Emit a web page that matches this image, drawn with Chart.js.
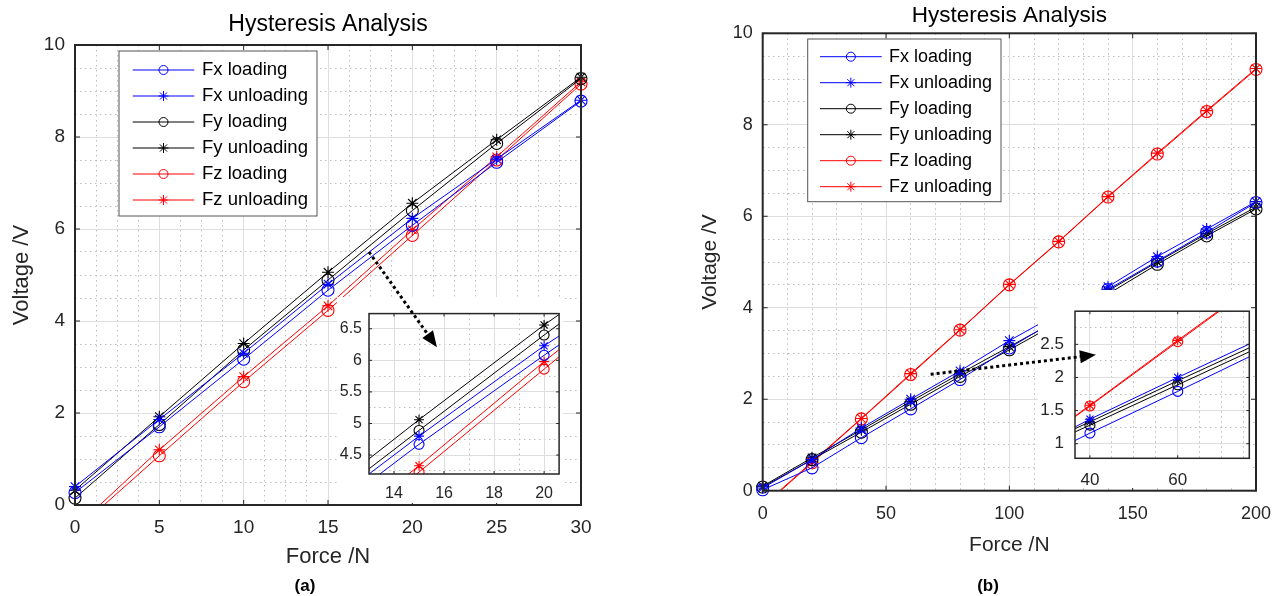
<!DOCTYPE html>
<html lang="en">
<head>
  <meta charset="UTF-8" />
  <title>Hysteresis Analysis</title>
  <script src="https://cdn.jsdelivr.net/npm/chart.js"></script>
  <style>
    body { margin: 0; background: #fff; font-family: "Liberation Sans", Arial, sans-serif; }
    #page { position: relative; width: 1273px; height: 596px; overflow: hidden; }
    canvas { position: absolute; }
    .inset { background: #fff; }
    .cap { position: absolute; width: 60px; text-align: center; font-weight: bold; font-size: 17px; line-height: 20px; color: #000; }
  </style>
</head>
<body>
<div id="page">
  <canvas id="mainA" width="640" height="596" style="left:0;top:0"></canvas>
  <canvas id="mainB" width="623" height="596" style="left:680px;top:0"></canvas>
  <canvas id="insetA" class="inset" width="226" height="206" style="left:337px;top:297px"></canvas>
  <canvas id="insetB" class="inset" width="213" height="198" style="left:1038px;top:290px"></canvas>
  <canvas id="overlay" width="1273" height="596" style="left:0;top:0;pointer-events:none"></canvas>
  <div class="cap" style="left:275px;top:576px">(a)</div>
  <div class="cap" style="left:958px;top:576px">(b)</div>
</div>

<script>
  // ---- data, panel (a) ----
  const forceA = [0, 5, 10, 15, 20, 25, 30];
  const fxLoadA   = [0.27, 1.70, 3.17, 4.67, 6.08, 7.45, 8.78];
  const fxUnloadA = [0.40, 1.86, 3.30, 4.80, 6.23, 7.52, 8.80];
  const fyLoadA   = [0.15, 1.75, 3.37, 4.89, 6.40, 7.86, 9.27];
  const fyUnloadA = [0.32, 1.92, 3.51, 5.06, 6.56, 7.94, 9.30];
  const fzLoadA   = [-0.56, 1.07, 2.68, 4.23, 5.86, 7.50, 9.15];
  const fzUnloadA = [-0.50, 1.20, 2.79, 4.33, 5.98, 7.57, 9.20];

  // ---- data, panel (b) ----
  const forceB = [0, 20, 40, 60, 80, 100, 120, 140, 160, 180, 200];
  const fxLoadB   = [0.02, 0.50, 1.16, 1.79, 2.43, 3.12, 3.77, 4.40, 5.02, 5.65, 6.30];
  const fxUnloadB = [0.06, 0.68, 1.37, 2.00, 2.62, 3.28, 3.88, 4.46, 5.12, 5.72, 6.32];
  const fyLoadB   = [0.08, 0.68, 1.28, 1.89, 2.50, 3.08, 3.68, 4.30, 4.95, 5.57, 6.16];
  const fyUnloadB = [0.10, 0.72, 1.33, 1.95, 2.56, 3.15, 3.74, 4.37, 5.00, 5.62, 6.20];
  const fzLoadB   = [-0.35, 0.61, 1.57, 2.54, 3.51, 4.50, 5.44, 6.42, 7.36, 8.29, 9.21];
  const fzUnloadB = [-0.33, 0.63, 1.58, 2.56, 3.52, 4.51, 5.45, 6.43, 7.38, 8.31, 9.23];

  // ---- tick labels ----
  const xTicksA = [0, 5, 10, 15, 20, 25, 30];
  const yTicksA = [0, 2, 4, 6, 8, 10];
  const xTicksB = [0, 50, 100, 150, 200];
  const yTicksB = [0, 2, 4, 6, 8, 10];
  const xTicksInsetA = [14, 16, 18, 20];
  const yTicksInsetA = [4.5, 5, 5.5, 6, 6.5];
  const xTicksInsetB = [40, 60];
  const yTicksInsetB = [1, 1.5, 2, 2.5];

  const names = ['Fx loading', 'Fx unloading', 'Fy loading', 'Fy unloading', 'Fz loading', 'Fz unloading'];
  const colors = ['#0000ff', '#0000ff', '#000000', '#000000', '#ff0000', '#ff0000'];
  const markers = ['circle', 'star', 'circle', 'star', 'circle', 'star'];

  const FONT = '"Liberation Sans", Arial, sans-serif';
  const INK = '#262626';

  // minor gridline positions between the major ticks
  function minors(min, max, step, major) {
    const out = [];
    for (let v = Math.ceil(min / step) * step; v <= max + 1e-9; v += step) {
      const r = Math.round(v * 1000) / 1000;
      if (!major.some(m => Math.abs(m - r) < 1e-6)) out.push(r);
    }
    return out;
  }

  function drawMarker(ctx, style, x, y, r) {
    ctx.beginPath();
    if (style === 'circle') {
      ctx.arc(x, y, r, 0, Math.PI * 2);
    } else {
      const d = r * Math.SQRT1_2;
      ctx.moveTo(x - r, y); ctx.lineTo(x + r, y);
      ctx.moveTo(x, y - r); ctx.lineTo(x, y + r);
      ctx.moveTo(x - d, y - d); ctx.lineTo(x + d, y + d);
      ctx.moveTo(x - d, y + d); ctx.lineTo(x + d, y - d);
    }
    ctx.stroke();
  }

  // box, inward ticks, title and legend, MATLAB style
  const frame = {
    id: 'frame',
    afterDraw(chart, args, o) {
      const { ctx, chartArea: a, scales } = chart;
      ctx.save();
      ctx.strokeStyle = INK;
      ctx.lineWidth = 1;
      ctx.beginPath();
      scales.x.ticks.forEach(t => {
        const px = scales.x.getPixelForValue(t.value);
        ctx.moveTo(px, a.bottom); ctx.lineTo(px, a.bottom - o.tick);
        ctx.moveTo(px, a.top); ctx.lineTo(px, a.top + o.tick);
      });
      scales.y.ticks.forEach(t => {
        const py = scales.y.getPixelForValue(t.value);
        ctx.moveTo(a.left, py); ctx.lineTo(a.left + o.tick, py);
        ctx.moveTo(a.right, py); ctx.lineTo(a.right - o.tick, py);
      });
      ctx.stroke();
      ctx.lineWidth = o.box;
      ctx.strokeRect(a.left, a.top, a.right - a.left, a.bottom - a.top);

      if (o.title) {
        ctx.fillStyle = '#000';
        ctx.font = o.titleSize + 'px ' + FONT;
        ctx.textAlign = 'center';
        ctx.textBaseline = 'middle';
        ctx.fillText(o.title, (a.left + a.right) / 2, a.top - o.titleOffset);
      }

      const L = o.legend;
      if (L) {
        const bx = a.left + L.x, by = a.top + L.y;
        ctx.fillStyle = '#fff';
        ctx.fillRect(bx, by, L.w, L.h);
        ctx.strokeStyle = '#555';
        ctx.lineWidth = 1;
        ctx.strokeRect(bx, by, L.w, L.h);
        ctx.font = L.size + 'px ' + FONT;
        ctx.textAlign = 'left';
        ctx.textBaseline = 'middle';
        chart.data.datasets.forEach((ds, i) => {
          const y = by + L.first + i * L.gap;
          ctx.strokeStyle = ds.borderColor;
          ctx.lineWidth = 1;
          ctx.beginPath();
          ctx.moveTo(bx + L.lineX, y); ctx.lineTo(bx + L.lineX + L.lineW, y);
          ctx.stroke();
          drawMarker(ctx, ds.pointStyle, bx + L.lineX + L.lineW / 2, y, ds.pointStyle === 'circle' ? 4.5 : 5);
          ctx.fillStyle = '#000';
          ctx.fillText(ds.label, bx + L.textX, y);
        });
      }
      ctx.restore();
    }
  };

  const fmt = v => String(Math.round(v * 100) / 100);

  function makeChart(id, p) {
    const series = [p.fxL, p.fxU, p.fyL, p.fyU, p.fzL, p.fzU];
    const datasets = series.map((vals, i) => ({
      label: names[i],
      data: p.force.map((f, j) => ({ x: f, y: vals[j] })),
      xAxisID: 'x', yAxisID: 'y',
      borderColor: colors[i],
      backgroundColor: 'transparent',
      borderWidth: 1,
      tension: 0,
      pointStyle: markers[i],
      pointRadius: p.r,
      pointBorderWidth: 1.1,
      pointBorderColor: colors[i],
      pointBackgroundColor: 'transparent',
      clip: p.clip(i)
    }));
    const tickFont = { family: FONT, size: p.tickSize };
    const titleFont = { family: FONT, size: p.axisSize };
    return new Chart(document.getElementById(id), {
      type: 'line',
      data: { datasets },
      options: {
        responsive: false,
        animation: false,
        events: [],
        layout: { padding: p.pad, autoPadding: false },
        plugins: { legend: { display: false }, tooltip: { enabled: false }, frame: p.frame },
        scales: {
          xm: {
            type: 'linear', position: 'bottom', min: p.xr[0], max: p.xr[1],
            afterBuildTicks: s => { s.ticks = minors(p.xr[0], p.xr[1], p.xMinor, p.xTicks).map(v => ({ value: v })); },
            afterFit: s => { s.height = 0; },
            ticks: { display: false },
            grid: { color: '#bdbdbd', lineWidth: 1, drawTicks: false },
            border: { display: false, dash: [1.5, 3.5] }
          },
          ym: {
            type: 'linear', position: 'left', min: p.yr[0], max: p.yr[1],
            afterBuildTicks: s => { s.ticks = minors(p.yr[0], p.yr[1], p.yMinor, p.yTicks).map(v => ({ value: v })); },
            afterFit: s => { s.width = 0; },
            ticks: { display: false },
            grid: { color: '#bdbdbd', lineWidth: 1, drawTicks: false },
            border: { display: false, dash: [1.5, 3.5] }
          },
          x: {
            type: 'linear', position: 'bottom', min: p.xr[0], max: p.xr[1],
            afterBuildTicks: s => { s.ticks = p.xTicks.map(v => ({ value: v })); },
            afterFit: s => { s.height = p.xh; },
            ticks: { font: tickFont, color: INK, padding: p.xPad, maxRotation: 0, autoSkip: false, callback: fmt },
            grid: { color: '#dedede', lineWidth: 1, drawTicks: false },
            border: { display: false },
            title: p.xTitle ? { display: true, text: p.xTitle, font: titleFont, color: INK, padding: { top: 0, bottom: p.xTitlePad } } : { display: false }
          },
          y: {
            type: 'linear', position: 'left', min: p.yr[0], max: p.yr[1],
            afterBuildTicks: s => { s.ticks = p.yTicks.map(v => ({ value: v })); },
            afterFit: s => { s.width = p.yw; },
            ticks: { font: tickFont, color: INK, padding: p.yPad, autoSkip: false, callback: fmt },
            grid: { color: '#dedede', lineWidth: 1, drawTicks: false },
            border: { display: false },
            title: p.yTitle ? { display: true, text: p.yTitle, font: titleFont, color: INK, padding: { top: p.yTitlePad, bottom: 0 } } : { display: false }
          }
        }
      },
      plugins: [frame]
    });
  }

  const dataA = { force: forceA, fxL: fxLoadA, fxU: fxUnloadA, fyL: fyLoadA, fyU: fyUnloadA, fzL: fzLoadA, fzU: fzUnloadA };
  const dataB = { force: forceB, fxL: fxLoadB, fxU: fxUnloadB, fyL: fyLoadB, fyU: fyUnloadB, fzL: fzLoadB, fzU: fzUnloadB };
  const mainClip = i => (i >= 4 ? { left: 8, right: 8, top: 8, bottom: 0 } : { left: 8, right: 8, top: 8, bottom: 8 });

  const chartA = makeChart('mainA', Object.assign({}, dataA, {
    r: 6, clip: mainClip,
    xr: [0, 30], yr: [0, 10], xTicks: xTicksA, yTicks: yTicksA, xMinor: 1.25, yMinor: 0.5,
    pad: { left: 0, top: 45, right: 59, bottom: 0 }, xh: 91, yw: 75,
    tickSize: 19, axisSize: 22, xPad: 11.6, yPad: 10,
    xTitle: 'Force /N', xTitlePad: 25.8, yTitle: 'Voltage /V', yTitlePad: 8.8,
    frame: { tick: 5, box: 2, title: 'Hysteresis Analysis', titleSize: 23, titleOffset: 20,
      legend: { x: 44, y: 6, w: 198, h: 165, first: 19, gap: 26, lineX: 13.7, lineW: 61.6, textX: 83, size: 18.5 } }
  }));

  // canvas runs past the page edge so the right margin stays wide enough for the "200" label
  const chartB = makeChart('mainB', Object.assign({}, dataB, {
    r: 6, clip: mainClip,
    xr: [0, 200], yr: [0, 10], xTicks: xTicksB, yTicks: yTicksB, xMinor: 10, yMinor: 0.5,
    pad: { left: 0, top: 33.3, right: 47, bottom: 0 }, xh: 105.3, yw: 82.7,
    tickSize: 18, axisSize: 21, xPad: 12.5, yPad: 10,
    xTitle: 'Force /N', xTitlePad: 38.4, yTitle: 'Voltage /V', yTitlePad: 17.4,
    frame: { tick: 5, box: 2, title: 'Hysteresis Analysis', titleSize: 22.5, titleOffset: 17.3,
      legend: { x: 45, y: 5.7, w: 193.3, h: 162.7, first: 17.7, gap: 26, lineX: 12.3, lineW: 61.7, textX: 81.3, size: 18 } }
  }));

  makeChart('insetA', Object.assign({}, dataA, {
    r: 5, clip: () => 0,
    xr: [13, 20.6], yr: [4.2, 6.74], xTicks: xTicksInsetA, yTicks: yTicksInsetA, xMinor: 1, yMinor: 0.25,
    pad: { left: 0, top: 2, right: 3, bottom: 0 }, xh: 29, yw: 32,
    tickSize: 16, xPad: 9.7, yPad: 7,
    frame: { tick: 3, box: 1.5 }
  }));

  makeChart('insetB', Object.assign({}, dataB, {
    r: 5, clip: () => 0,
    xr: [36.6, 76.3], yr: [0.78, 3.0], xTicks: xTicksInsetB, yTicks: yTicksInsetB, xMinor: 5, yMinor: 0.25,
    pad: { left: 0, top: 5.7, right: 1.7, bottom: 0 }, xh: 29.7, yw: 37,
    tickSize: 17, xPad: 11.5, yPad: 11,
    frame: { tick: 3, box: 1.5 }
  }));

  // dotted arrows pointing at the zoomed regions, given in main-axis units
  const arrowA = { from: [17.43, 5.5], to: [21.46, 3.43] };
  const arrowB = { from: [68.1, 2.545], to: [135.1, 2.97] };

  function drawArrow(ctx, chart, offsetX, arrow) {
    const sx = chart.scales.x, sy = chart.scales.y;
    const x0 = sx.getPixelForValue(arrow.from[0]) + offsetX, y0 = sy.getPixelForValue(arrow.from[1]);
    const x1 = sx.getPixelForValue(arrow.to[0]) + offsetX, y1 = sy.getPixelForValue(arrow.to[1]);
    const len = Math.hypot(x1 - x0, y1 - y0);
    const ux = (x1 - x0) / len, uy = (y1 - y0) / len;
    const head = 16, half = 6.6;
    const bx = x1 - ux * head, by = y1 - uy * head;
    ctx.save();
    ctx.strokeStyle = '#000';
    ctx.lineWidth = 3;
    ctx.setLineDash([3, 3]);
    ctx.beginPath();
    ctx.moveTo(x0, y0); ctx.lineTo(bx, by);
    ctx.stroke();
    ctx.setLineDash([]);
    ctx.fillStyle = '#000';
    ctx.beginPath();
    ctx.moveTo(x1, y1);
    ctx.lineTo(bx - uy * half, by + ux * half);
    ctx.lineTo(bx + uy * half, by - ux * half);
    ctx.closePath();
    ctx.fill();
    ctx.restore();
  }

  const octx = document.getElementById('overlay').getContext('2d');
  drawArrow(octx, chartA, 0, arrowA);
  drawArrow(octx, chartB, 680, arrowB);
</script>
</body>
</html>
